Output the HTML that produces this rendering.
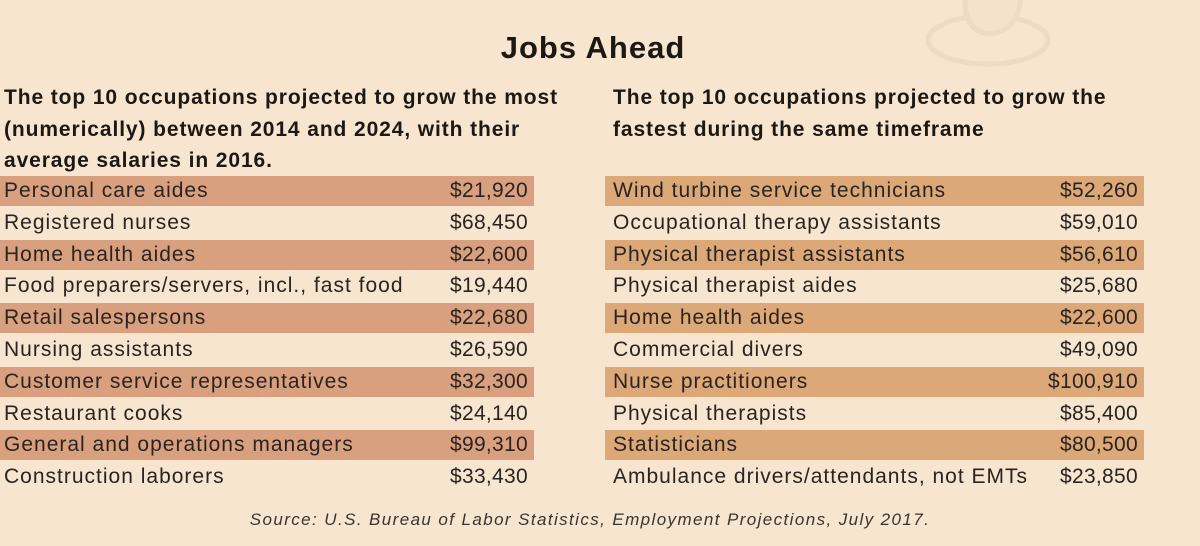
<!DOCTYPE html>
<html><head><meta charset="utf-8"><style>
body{margin:0;width:1200px;height:546px;background:#f7e5cf;font-family:"Liberation Sans",sans-serif;color:#2a2420;position:relative;overflow:hidden}
.abs{position:absolute;white-space:nowrap}
#title{left:0;width:1186px;text-align:center;top:30px;font-size:31px;letter-spacing:1px;font-weight:bold;color:#1c1814}
.sub{font-size:21px;letter-spacing:0.9px;font-weight:bold;line-height:31.5px;color:#1c1814}
.row{position:absolute;height:30px;font-size:21px;letter-spacing:1px;line-height:30px}
.row .n{position:absolute;left:4px}
.row .v{position:absolute;right:6px;letter-spacing:0.3px}
#src{left:0;width:1180px;text-align:center;top:510px;font-size:17px;letter-spacing:1.4px;font-style:italic;color:#3a3430}
</style></head><body>
<svg class="abs" style="left:915px;top:0" width="140" height="75">
<ellipse cx="73" cy="40" rx="60" ry="24" fill="none" stroke="#ecdcc4" stroke-width="5"/>
<path d="M50 0 Q50 32 75 34 Q100 32 106 0" fill="#f4e2cb" stroke="#ecdcc4" stroke-width="5"/>
</svg>
<div id="title" class="abs">Jobs Ahead</div>
<div class="abs sub" style="left:4px;top:82px">The top 10 occupations projected to grow the most<br>(numerically) between 2014 and 2024, with their<br>average salaries in 2016.</div>
<div class="abs sub" style="left:613px;top:82px">The top 10 occupations projected to grow the<br>fastest during the same timeframe</div>
<div id="left"></div>
<div id="right"></div>
<div id="src" class="abs">Source: U.S. Bureau of Labor Statistics, Employment Projections, July 2017.</div>
<script>
const leftJobs=["Personal care aides","Registered nurses","Home health aides","Food preparers/servers, incl., fast food","Retail salespersons","Nursing assistants","Customer service representatives","Restaurant cooks","General and operations managers","Construction laborers"];
const leftSalaries=["$21,920","$68,450","$22,600","$19,440","$22,680","$26,590","$32,300","$24,140","$99,310","$33,430"];
const rightJobs=["Wind turbine service technicians","Occupational therapy assistants","Physical therapist assistants","Physical therapist aides","Home health aides","Commercial divers","Nurse practitioners","Physical therapists","Statisticians","Ambulance drivers/attendants, not EMTs"];
const rightSalaries=["$52,260","$59,010","$56,610","$25,680","$22,600","$49,090","$100,910","$85,400","$80,500","$23,850"];
function build(id,jobs,sal,x,w,hl,pad){
  const c=document.getElementById(id);
  jobs.forEach((j,i)=>{
    const r=document.createElement('div');
    
    
    r.className='row';
    r.style.left=x+'px';r.style.width=w+'px';r.style.top=(176+31.8*i)+'px';
    if(i%2===0)r.style.background=hl;
    const n=document.createElement('span');n.className='n';n.textContent=j;n.style.left=pad+'px';
    
    
    const v=document.createElement('span');v.className='v';v.textContent=sal[i];
    
    
    r.appendChild(n);r.appendChild(v);c.appendChild(r);
  });
}
build('left',leftJobs,leftSalaries,0,534,'#d9a07f',4);
build('right',rightJobs,rightSalaries,605,539,'#dca878',8);
</script>
</body></html>
